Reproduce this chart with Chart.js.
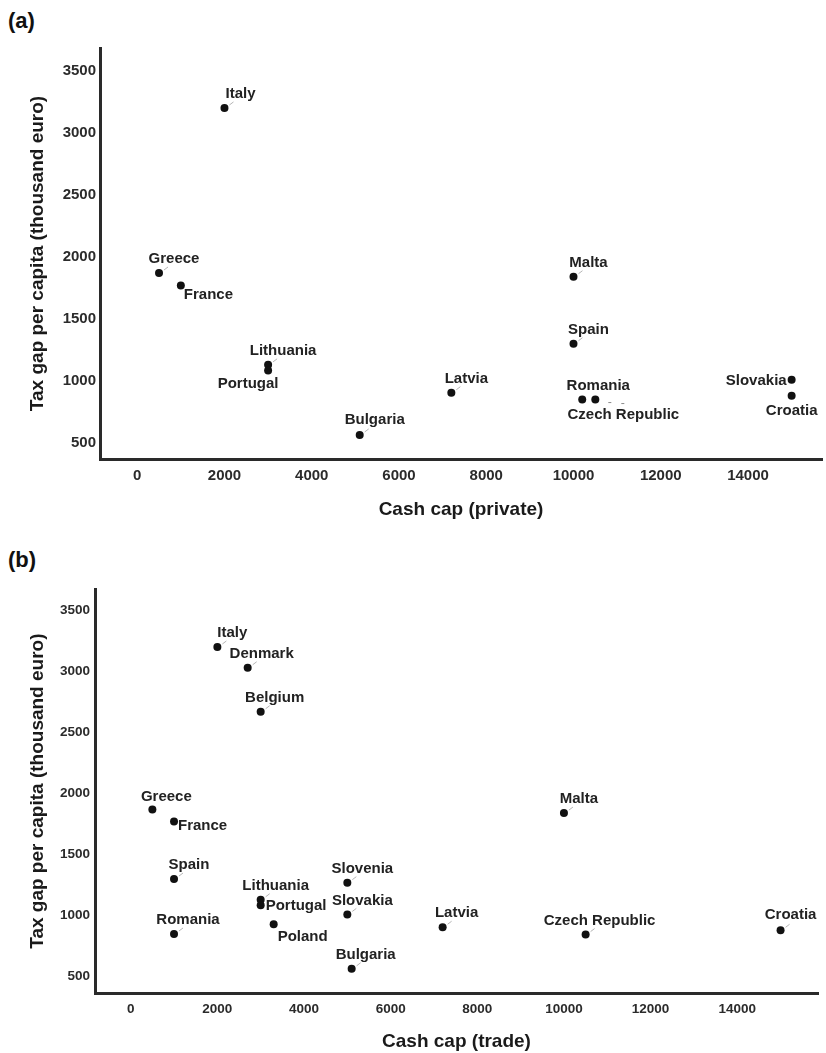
<!DOCTYPE html>
<html>
<head>
<meta charset="utf-8">
<script src="https://cdn.jsdelivr.net/npm/chart.js@4/dist/chart.umd.min.js"></script>
<style>
  html, body { margin: 0; padding: 0; background: #fff; }
  body { width: 826px; height: 1053px; position: relative; overflow: hidden;
         font-family: "Liberation Sans", Arial, sans-serif; }
  .panel-tag { position: absolute; left: 8px; font-weight: bold; font-size: 22px;
               line-height: 1; color: #111; }
  .wrap { position: absolute; left: 0; width: 826px; }
  #wrapA { top: 0; height: 530px; }
  #wrapB { top: 530px; height: 523px; }
</style>
</head>
<body>
<div class="panel-tag" style="top:10px">(a)</div>
<div class="panel-tag" style="top:549px">(b)</div>
<div class="wrap" id="wrapA"><canvas id="chartA" width="826" height="530"></canvas></div>
<div class="wrap" id="wrapB"><canvas id="chartB" width="826" height="523"></canvas></div>

<script>
// ---- Panel (a): cash cap for private transactions ----
const privateCountries = ['Italy', 'Greece', 'France', 'Lithuania', 'Portugal', 'Bulgaria', 'Latvia',
                          'Malta', 'Spain', 'Romania', 'Czech Republic', 'Slovakia', 'Croatia'];
const privateCashCap   = [2000, 500, 1000, 3000, 3000, 5100, 7200, 10000, 10000, 10200, 10500, 15000, 15000];
const privateTaxGap    = [3200, 1870, 1770, 1130, 1085, 565, 905, 1840, 1300, 850, 850, 1010, 880];

// ---- Panel (b): cash cap for trade transactions ----
const tradeCountries = ['Italy', 'Denmark', 'Belgium', 'Greece', 'France', 'Spain', 'Romania', 'Lithuania',
                        'Portugal', 'Poland', 'Slovenia', 'Slovakia', 'Bulgaria', 'Latvia', 'Malta',
                        'Czech Republic', 'Croatia'];
const tradeCashCap   = [2000, 2700, 3000, 500, 1000, 1000, 1000, 3000, 3000, 3300, 5000, 5000, 5100, 7200,
                        10000, 10500, 15000];
const tradeTaxGap    = [3200, 3030, 2670, 1870, 1770, 1300, 850, 1130, 1085, 930, 1270, 1010, 565, 905,
                        1840, 845, 880];

// ---- Tick labels shared by both panels ----
const xTickValues = [0, 2000, 4000, 6000, 8000, 10000, 12000, 14000];
const yTickValues = [500, 1000, 1500, 2000, 2500, 3000, 3500];

const yTitle = 'Tax gap per capita (thousand euro)';

// Label placement around each dot (pixel offsets from the dot centre).
// align 'center' => dx,dy is the text centre; 'left'/'right' => dx is the text edge.
const DEFAULT_PLACE = { dx: 15, dy: -14, align: 'center', leader: true };
const placeA = {
  'Italy':          { dx: 16, dy: -14, align: 'center', leader: true },
  'France':         { dx: 3,  dy: 9,   align: 'left' },
  'Portugal':       { dx: -20, dy: 13, align: 'center' },
  'Bulgaria':       { dx: 15, dy: -15, align: 'center', leader: true },
  'Romania':        { dx: 16, dy: -14, align: 'center' },
  'Czech Republic': { dx: 28, dy: 15,  align: 'center', dashes: true },
  'Slovakia':       { dx: -5, dy: 1,   align: 'right' },
  'Croatia':        { dx: 0,  dy: 15,  align: 'center' }
};
const placeB = {
  'Denmark':        { dx: 14, dy: -14, align: 'center', leader: true },
  'Belgium':        { dx: 14, dy: -14, align: 'center', leader: true },
  'Greece':         { dx: 14, dy: -13, align: 'center' },
  'France':         { dx: 4,  dy: 4,   align: 'left' },
  'Romania':        { dx: 14, dy: -14, align: 'center', leader: true },
  'Portugal':       { dx: 5,  dy: 1,   align: 'left' },
  'Poland':         { dx: 29, dy: 13,  align: 'center' },
  'Bulgaria':       { dx: 14, dy: -14, align: 'center', leader: true },
  'Latvia':         { dx: 14, dy: -14, align: 'center', leader: true },
  'Czech Republic': { dx: 14, dy: -14, align: 'center', leader: true },
  'Croatia':        { dx: 10, dy: -15, align: 'center', leader: true }
};

const FONT = '"Liberation Sans", Arial, Helvetica, sans-serif';
Chart.defaults.font.family = FONT;
Chart.defaults.color = '#222';

// Draws the country name next to every dot, with a short faint leader stroke.
const countryLabels = {
  id: 'countryLabels',
  afterDatasetsDraw(chart, args, opts) {
    const ctx = chart.ctx;
    const meta = chart.getDatasetMeta(0);
    ctx.save();
    ctx.font = 'bold 15px ' + FONT;
    ctx.textBaseline = 'middle';
    meta.data.forEach((pt, i) => {
      const name = opts.names[i];
      const p = opts.place[name] || DEFAULT_PLACE;
      if (p.leader) {
        ctx.strokeStyle = 'rgba(120,120,120,0.55)';
        ctx.lineWidth = 1;
        ctx.beginPath();
        ctx.moveTo(pt.x + 5, pt.y - 3);
        ctx.lineTo(pt.x + 9, pt.y - 6);
        ctx.stroke();
      }
      if (p.dashes) {
        ctx.strokeStyle = 'rgba(90,90,90,0.7)';
        ctx.lineWidth = 1;
        ctx.beginPath();
        ctx.moveTo(pt.x + 13, pt.y + 3); ctx.lineTo(pt.x + 16, pt.y + 3);
        ctx.moveTo(pt.x + 26, pt.y + 4); ctx.lineTo(pt.x + 29, pt.y + 4);
        ctx.stroke();
      }
      ctx.fillStyle = '#222';
      ctx.textAlign = p.align;
      ctx.fillText(name, pt.x + p.dx, pt.y + p.dy);
    });
    ctx.restore();
  }
};

function buildChart(canvasId, cfg) {
  const points = cfg.xs.map((x, i) => ({ x: x, y: cfg.ys[i] }));
  return new Chart(document.getElementById(canvasId), {
    type: 'scatter',
    data: {
      datasets: [{
        data: points,
        pointRadius: 4,
        pointHoverRadius: 4,
        pointBackgroundColor: '#111',
        pointBorderWidth: 0
      }]
    },
    options: {
      responsive: false,
      animation: false,
      events: [],
      layout: { padding: { top: cfg.padTop, right: cfg.padRight, left: 0, bottom: 0 } },
      plugins: {
        legend: { display: false },
        tooltip: { enabled: false },
        countryLabels: { names: cfg.names, place: cfg.place }
      },
      scales: {
        x: {
          type: 'linear',
          min: cfg.xMin, max: cfg.xMax,
          grid: { display: false, drawTicks: false },
          border: { display: true, color: '#2a2a2a', width: 3 },
          afterBuildTicks: s => { s.ticks = xTickValues.map(v => ({ value: v })); },
          afterFit: s => { s.height = cfg.xScaleHeight; },
          ticks: {
            autoSkip: false, maxRotation: 0, padding: 8,
            color: '#2b2b2b',
            font: { size: cfg.tickSize, weight: 'bold' },
            callback: v => String(v)
          },
          title: {
            display: true, text: cfg.xTitle, color: '#1a1a1a',
            font: { size: 19, weight: 'bold' },
            padding: { top: 0, bottom: cfg.xTitlePadBottom }
          }
        },
        y: {
          type: 'linear',
          min: cfg.yMin, max: cfg.yMax,
          grid: { display: false, drawTicks: false },
          border: { display: true, color: '#2a2a2a', width: 3 },
          afterBuildTicks: s => { s.ticks = yTickValues.map(v => ({ value: v })); },
          afterFit: s => { s.width = cfg.yScaleWidth; },
          ticks: {
            padding: cfg.yTickPad,
            color: '#2b2b2b',
            font: { size: cfg.tickSize, weight: 'bold' },
            callback: v => String(v)
          },
          title: {
            display: true, text: yTitle, color: '#1a1a1a',
            font: { size: 19, weight: 'bold' },
            padding: { top: 26.6, bottom: 0 }
          }
        }
      }
    },
    plugins: [countryLabels]
  });
}

buildChart('chartA', {
  names: privateCountries, xs: privateCashCap, ys: privateTaxGap, place: placeA,
  xTitle: 'Cash cap (private)',
  xMin: -853, xMax: 15696, yMin: 371, yMax: 3683,
  padTop: 48, padRight: 2, yScaleWidth: 100, xScaleHeight: 71,
  xTitlePadBottom: 8.6, yTickPad: 4, tickSize: 15
});

buildChart('chartB', {
  names: tradeCountries, xs: tradeCashCap, ys: tradeTaxGap, place: placeB,
  xTitle: 'Cash cap (trade)',
  xMin: -824, xMax: 15864, yMin: 364, yMax: 3675,
  padTop: 59, padRight: 8, yScaleWidth: 95, xScaleHeight: 59.7,
  xTitlePadBottom: 0, yTickPad: 5, tickSize: 13.5
});
</script>
</body>
</html>
